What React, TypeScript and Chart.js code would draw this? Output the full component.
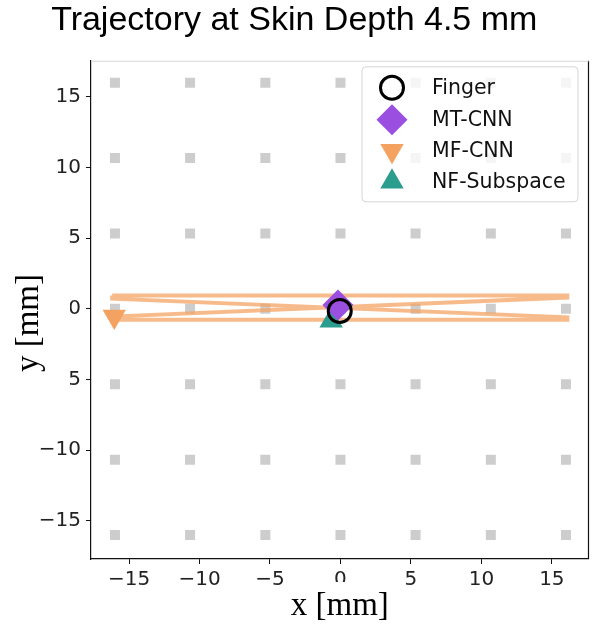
import React, { useEffect, useRef } from 'react';
import { Chart, registerables } from 'chart.js';
import { drawPoint } from 'chart.js/helpers';

Chart.register(...registerables);

const titleText = 'Trajectory at Skin Depth 4.5 mm';
const xAxisLabel = 'x [mm]';
const yAxisLabel = 'y [mm]';

const xTickValues = [-15, -10, -5, 0, 5, 10, 15];
const yTickValues = [-15, -10, -5, 0, 5, 10, 15];

// electrode grid positions
const electrodeX = [-16, -10.67, -5.33, 0, 5.33, 10.67, 16];
const electrodeY = [-16, -10.67, -5.33, 0, 5.33, 10.67, 16];

// finger trajectory
const trajectoryX = [-16.2, 16.1, 16.1, -16.2, -16.2, 16.1, 16.1, -16.2, -16.2];
const trajectoryY = [0.95, 0.95, 0.8, -0.55, -0.78, -0.78, -0.6, 0.72, 0.95];

// marker series
const seriesLabels = ['Finger', 'MT-CNN', 'MF-CNN', 'NF-Subspace'];
const fingerX = [-0.05];
const fingerY = [-0.15];
const mtcnnX = [-0.18];
const mtcnnY = [0.28];
const mfcnnX = [-16.05];
const mfcnnY = [-0.55];
const nfX = [-0.66];
const nfY = [-0.85];

const markerStyles = [
  { pointStyle: 'circle', radius: 11.5, rotation: 0, borderWidth: 3, fill: 'rgba(0,0,0,0)', stroke: '#000000' },
  { pointStyle: 'rectRot', radius: 15.5, rotation: 0, borderWidth: 0, fill: '#9b4fe0', stroke: '#9b4fe0' },
  { pointStyle: 'triangle', radius: 13.5, rotation: 180, borderWidth: 0, fill: '#f4a261', stroke: '#f4a261' },
  { pointStyle: 'triangle', radius: 13.5, rotation: 0, borderWidth: 0, fill: '#2a9d8f', stroke: '#2a9d8f' },
];

const fmt = (v: number | string) => {
  const n = Number(v);
  return n < 0 ? '\u2212' + Math.abs(n) : String(n);
};

const toPoints = (xs: number[], ys: number[]) => xs.map((x, i) => ({ x, y: ys[i] }));

const overlayPlugin = {
  id: 'overlay',
  afterDatasetsDraw(chart: any) {
    const { ctx, chartArea: a } = chart;
    ctx.save();
    ctx.strokeStyle = '#111111';
    ctx.lineWidth = 1.2;
    ctx.beginPath();
    ctx.moveTo(a.right, a.top);
    ctx.lineTo(a.right, a.bottom);
    ctx.stroke();
    ctx.strokeStyle = '#d6d6d6';
    ctx.lineWidth = 1;
    ctx.beginPath();
    ctx.moveTo(a.left, a.top + 0.5);
    ctx.lineTo(a.right, a.top + 0.5);
    ctx.stroke();
    ctx.restore();
  },
  afterDraw(chart: any) {
    const { ctx, chartArea: a } = chart;
    ctx.save();
    // legend box
    const x0 = a.right - 226.5;
    const y0 = a.top + 6;
    const w = 216;
    const h = 135;
    ctx.beginPath();
    ctx.roundRect(x0, y0, w, h, 4);
    ctx.fillStyle = 'rgba(255,255,255,0.8)';
    ctx.fill();
    ctx.strokeStyle = '#d4d4d4';
    ctx.lineWidth = 1;
    ctx.stroke();
    const rowY = [27, 59, 90, 121];
    ctx.font = '20.5px "DejaVu Sans"';
    ctx.textBaseline = 'middle';
    ctx.textAlign = 'left';
    seriesLabels.forEach((label, i) => {
      const s = markerStyles[i];
      const cy = a.top + rowY[i];
      ctx.fillStyle = s.fill;
      ctx.strokeStyle = s.stroke;
      ctx.lineWidth = s.borderWidth;
      drawPoint(ctx, { pointStyle: s.pointStyle, radius: s.radius, rotation: s.rotation, borderWidth: s.borderWidth } as any, x0 + 30, cy);
      ctx.fillStyle = '#111111';
      ctx.fillText(label, x0 + 70, cy + 1);
    });
    // axis titles with white background (as in reference)
    ctx.fillStyle = '#ffffff';
    ctx.fillRect(0, 268, 70, 118);
    ctx.fillRect(288, 582, 104, 43);
    ctx.fillStyle = '#000000';
    ctx.font = '33px "Liberation Serif", "Times New Roman", serif';
    ctx.textAlign = 'center';
    ctx.textBaseline = 'middle';
    ctx.fillText(xAxisLabel, (a.left + a.right) / 2, 606);
    ctx.translate(29, 323);
    ctx.rotate(-Math.PI / 2);
    ctx.fillText(yAxisLabel, 0, 0);
    ctx.restore();
  },
};

export default function App() {
  const ref = useRef<HTMLCanvasElement | null>(null);
  useEffect(() => {
    if (!ref.current) return;
    const electrodePts: { x: number; y: number }[] = [];
    electrodeY.forEach((y) => electrodeX.forEach((x) => electrodePts.push({ x, y })));
    const markerDataset = (i: number, xs: number[], ys: number[], order: number) => ({
      label: seriesLabels[i],
      data: toPoints(xs, ys),
      pointStyle: markerStyles[i].pointStyle,
      pointRadius: markerStyles[i].radius,
      pointRotation: markerStyles[i].rotation,
      pointBorderWidth: markerStyles[i].borderWidth,
      pointBackgroundColor: markerStyles[i].fill,
      pointBorderColor: markerStyles[i].stroke,
      showLine: false,
      order,
    });
    const chart = new Chart(ref.current, {
      type: 'scatter',
      data: {
        datasets: [
          markerDataset(0, fingerX, fingerY, 0),
          markerDataset(1, mtcnnX, mtcnnY, 1),
          markerDataset(3, nfX, nfY, 2),
          markerDataset(2, mfcnnX, mfcnnY, 3),
          {
            label: 'trajectory',
            data: toPoints(trajectoryX, trajectoryY),
            showLine: true,
            borderColor: 'rgba(244,162,97,0.74)',
            borderWidth: 4,
            pointRadius: 0,
            tension: 0,
            fill: false,
            borderJoinStyle: 'miter',
            order: 4,
          } as any,
          {
            label: 'electrodes',
            data: electrodePts,
            pointStyle: 'rect',
            pointRadius: 7.07,
            pointBorderWidth: 0,
            pointBackgroundColor: '#cdcdcd',
            showLine: false,
            order: 5,
          } as any,
        ],
      },
      options: {
        responsive: false,
        devicePixelRatio: 1,
        animation: false,
        events: [],
        layout: { autoPadding: false, padding: { left: 0, right: 3.5, top: 0, bottom: 0 } },
        plugins: {
          legend: { display: false },
          tooltip: { enabled: false },
          title: {
            display: true,
            text: titleText,
            color: '#000000',
            font: { family: '"Liberation Sans", Arial, sans-serif', size: 34, weight: 'normal' },
            padding: { top: 0, bottom: 20 },
          },
        },
        scales: {
          x: {
            type: 'linear',
            min: -17.7,
            max: 17.6,
            afterBuildTicks: (s: any) => {
              s.ticks = xTickValues.map((v) => ({ value: v }));
            },
            afterFit: (s: any) => {
              s.height = 66;
              s.paddingLeft = 0;
              s.paddingRight = 0;
            },
            grid: { drawOnChartArea: false, drawTicks: true, tickLength: 5, tickColor: '#111111', tickWidth: 1 },
            border: { display: true, color: '#111111', width: 1.2 },
            ticks: {
              font: { family: '"DejaVu Sans"', size: 20 },
              color: '#222222',
              padding: 4,
              maxRotation: 0,
              autoSkip: false,
              callback: fmt,
            },
          },
          y: {
            type: 'linear',
            min: -17.7,
            max: 17.55,
            afterBuildTicks: (s: any) => {
              s.ticks = yTickValues.map((v) => ({ value: v }));
            },
            afterFit: (s: any) => {
              s.width = 91;
              s.paddingTop = 0;
              s.paddingBottom = 0;
            },
            grid: { drawOnChartArea: false, drawTicks: true, tickLength: 5, tickColor: '#111111', tickWidth: 1 },
            border: { display: true, color: '#111111', width: 1.2 },
            ticks: {
              font: { family: '"DejaVu Sans"', size: 20 },
              color: '#222222',
              padding: 5,
              autoSkip: false,
              callback: fmt,
            },
          },
        },
      } as any,
      plugins: [overlayPlugin],
    });
    return () => chart.destroy();
  }, []);
  return (
    <div style={{ position: 'fixed', left: 0, top: 0, width: 592, height: 625, background: '#ffffff' }}>
      <canvas ref={ref} width={592} height={625} style={{ display: 'block', width: 592, height: 625 }} />
    </div>
  );
}
